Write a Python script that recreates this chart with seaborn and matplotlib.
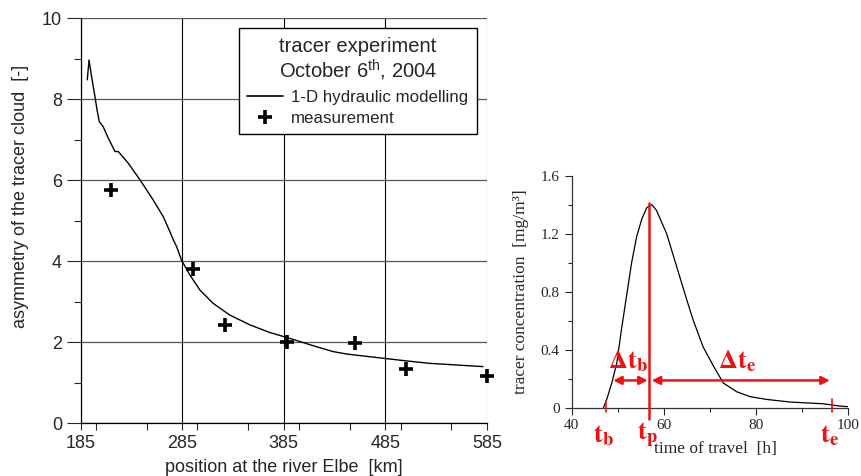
import numpy as np
import pandas as pd
import matplotlib
matplotlib.use("Agg")
import matplotlib.pyplot as plt
from matplotlib.ticker import MultipleLocator
from matplotlib.lines import Line2D
import seaborn as sns

# ---------------- data ----------------
# left panel: modelled asymmetry along the river
model_km = [191.5, 193.2, 195.5, 199.1, 201.0, 203.3, 207.2, 212.0, 218.8, 222.0, 231.9,
            243.4, 256.5, 266.3, 272.9, 276.2, 279.5, 284.4, 286.0, 292.6, 302.4, 315.5,
            332.0, 351.7, 371.4, 387.8, 417.3, 433.7, 446.9, 484.9, 506.0, 528.8, 555.0, 581.0]
model_asym = [8.48, 8.97, 8.60, 8.06, 7.75, 7.45, 7.32, 7.05, 6.71, 6.71, 6.42,
              6.01, 5.51, 5.10, 4.73, 4.53, 4.36, 4.02, 3.95, 3.66, 3.29, 2.96,
              2.67, 2.43, 2.24, 2.12, 1.89, 1.77, 1.71, 1.60, 1.54, 1.48, 1.44, 1.40]
meas_km = [215, 296, 327, 388, 455, 505, 585]
meas_asym = [5.76, 3.81, 2.43, 2.00, 1.98, 1.34, 1.17]

# right panel: tracer breakthrough curve
t_h = [46.9, 47.6, 48.7, 49.8, 50.8, 51.9, 53.0, 54.1, 55.2, 56.3, 57.4, 58.4, 60.6,
       62.8, 65.0, 66.4, 68.5, 70.7, 72.9, 75.8, 78.7, 82.3, 87.4, 94.6, 98.2, 100.0]
conc = [0.0, 0.057, 0.17, 0.31, 0.54, 0.77, 1.00, 1.18, 1.30, 1.38, 1.40, 1.36, 1.20,
        0.97, 0.74, 0.60, 0.42, 0.29, 0.17, 0.11, 0.076, 0.057, 0.039, 0.027, 0.011, 0.007]
t_b, t_p, t_e = 47.4, 56.85, 96.4
arrow_y = 0.188

left_x_ticks = [185, 285, 385, 485, 585]
left_y_ticks = [0, 2, 4, 6, 8, 10]
right_x_ticks = [40, 60, 80, 100]
right_y_ticks = [0, 0.4, 0.8, 1.2, 1.6]

# ---------------- style ----------------
sns.set_style("white")
plt.rcParams['font.family'] = ['Liberation Sans', 'DejaVu Sans']
plt.rcParams['mathtext.fontset'] = 'custom'
plt.rcParams['mathtext.rm'] = 'Liberation Sans'

fig = plt.figure(figsize=(8.62, 4.76), dpi=100)
fig.patch.set_facecolor("white")

# ---------------- left panel ----------------
ax = fig.add_axes([0.0936, 0.1107, 0.4713, 0.8509])
df_model = pd.DataFrame({"km": model_km, "asym": model_asym})
df_meas = pd.DataFrame({"km": meas_km, "asym": meas_asym})
sns.lineplot(data=df_model, x="km", y="asym", ax=ax, color="black", lw=1.0, sort=False)
sns.scatterplot(data=df_meas, x="km", y="asym", ax=ax, marker="+", s=90,
                color="black", linewidth=2.6, zorder=5, clip_on=False)

ax.set_xlim(185, 585)
ax.set_ylim(0, 10)
ax.set_xticks(left_x_ticks)
ax.set_yticks(left_y_ticks)
ax.xaxis.set_minor_locator(MultipleLocator(50))
ax.yaxis.set_minor_locator(MultipleLocator(1))
ax.xaxis.grid(True, which="major", color="black", lw=0.8)
ax.yaxis.grid(True, which="major", color="#555555", lw=0.9)
ax.set_axisbelow(True)
for s in ["top", "right"]:
    ax.spines[s].set_visible(False)
for s in ["left", "bottom"]:
    ax.spines[s].set_color("black")
    ax.spines[s].set_linewidth(0.9)
ax.tick_params(axis="y", which="major", direction="out", length=10, width=0.8, labelsize=13, left=True)
ax.tick_params(axis="y", which="minor", direction="out", length=5, width=0.8, left=True)
ax.tick_params(axis="x", which="major", direction="out", length=5, width=0.8, labelsize=13, bottom=True)
ax.tick_params(axis="x", which="minor", direction="out", length=5, width=0.8, bottom=True)
ax.set_xlabel("position at the river Elbe  [km]", fontsize=13)
ax.xaxis.set_label_coords(0.5, -0.088)
ax.set_ylabel("asymmetry of the tracer cloud  [-]", fontsize=13)
ax.yaxis.set_label_coords(-0.128, 0.559)

handles = [Line2D([], [], color="black", lw=1.2),
           Line2D([], [], color="black", marker="+", ls="none", markersize=10, markeredgewidth=2.6)]
leg = ax.legend(handles, ["1-D hydraulic modelling", "measurement"],
                title="tracer experiment\nOctober 6$^{\\rm th}$, 2004",
                loc="upper right", bbox_to_anchor=(0.975, 0.975), borderaxespad=0,
                fancybox=False, framealpha=1, edgecolor="black", fontsize=12.2,
                title_fontsize=14.5, handlelength=2.1, handletextpad=0.5,
                borderpad=0.5, labelspacing=0.38)
leg.get_frame().set_linewidth(1.0)
leg.get_title().set_multialignment("center")
leg.get_title().set_linespacing(1.1)

# ---------------- right panel ----------------
ax2 = fig.add_axes([0.6632, 0.1435, 0.3209, 0.4874])
df_c = pd.DataFrame({"t": t_h, "c": conc})
sns.lineplot(data=df_c, x="t", y="c", ax=ax2, color="black", lw=0.9, sort=False)
ax2.set_xlim(40, 100)
ax2.set_ylim(0, 1.6)
ax2.set_xticks(right_x_ticks)
ax2.set_yticks(right_y_ticks)
ax2.set_yticklabels(["0", "0.4", "0.8", "1.2", "1.6"])
ax2.xaxis.set_minor_locator(MultipleLocator(10))
ax2.yaxis.set_minor_locator(MultipleLocator(0.2))
for s in ["top", "right"]:
    ax2.spines[s].set_visible(False)
for s in ["left", "bottom"]:
    ax2.spines[s].set_color("#333333")
    ax2.spines[s].set_linewidth(0.9)
serif = ['Liberation Serif', 'DejaVu Serif']
ax2.tick_params(which="major", direction="out", length=5, width=0.8, labelsize=11, left=True, bottom=True)
ax2.tick_params(which="minor", direction="out", length=3, width=0.8, left=True, bottom=True)
for lab in ax2.get_xticklabels() + ax2.get_yticklabels():
    lab.set_family(serif)
ax2.set_xlabel("time of travel  [h]", fontsize=12.5, family=serif)
ax2.xaxis.set_label_coords(0.52, -0.145)
ax2.set_ylabel("tracer concentration  [mg/m³]", fontsize=12.5, family=serif)
ax2.yaxis.set_label_coords(-0.155, 0.5)

red = "#ee1111"
ax2.plot([t_p, t_p], [-0.08, 1.41], color=red, lw=1.8, clip_on=False, zorder=6)
ax2.plot([t_b, t_b], [-0.03, 0.045], color=red, lw=1.2, clip_on=False, zorder=6)
ax2.plot([t_e, t_e], [-0.03, 0.057], color=red, lw=1.2, clip_on=False, zorder=6)
ap = dict(arrowstyle="<|-|>", color=red, lw=1.8, mutation_scale=12, shrinkA=0, shrinkB=0)
ax2.annotate("", xy=(49.0, arrow_y), xytext=(56.5, arrow_y), arrowprops=ap)
ax2.annotate("", xy=(57.35, arrow_y), xytext=(96.0, arrow_y), arrowprops=ap)

plt.rcParams['mathtext.fontset'] = 'stix'
tkw = dict(color=red, fontsize=19, ha="center", va="center", family=serif, fontweight="bold")
ax2.text(52.3, 0.32, r"$\mathbf{\Delta t_b}$", **tkw)
ax2.text(75.9, 0.32, r"$\mathbf{\Delta t_e}$", **tkw)
ax2.text(46.8, -0.19, r"$\mathbf{t_b}$", clip_on=False, **tkw)
ax2.text(56.4, -0.19, r"$\mathbf{t_p}$", clip_on=False, **tkw)
ax2.text(96.0, -0.19, r"$\mathbf{t_e}$", clip_on=False, **tkw)

fig.savefig("out.png", dpi=100, facecolor="white")
